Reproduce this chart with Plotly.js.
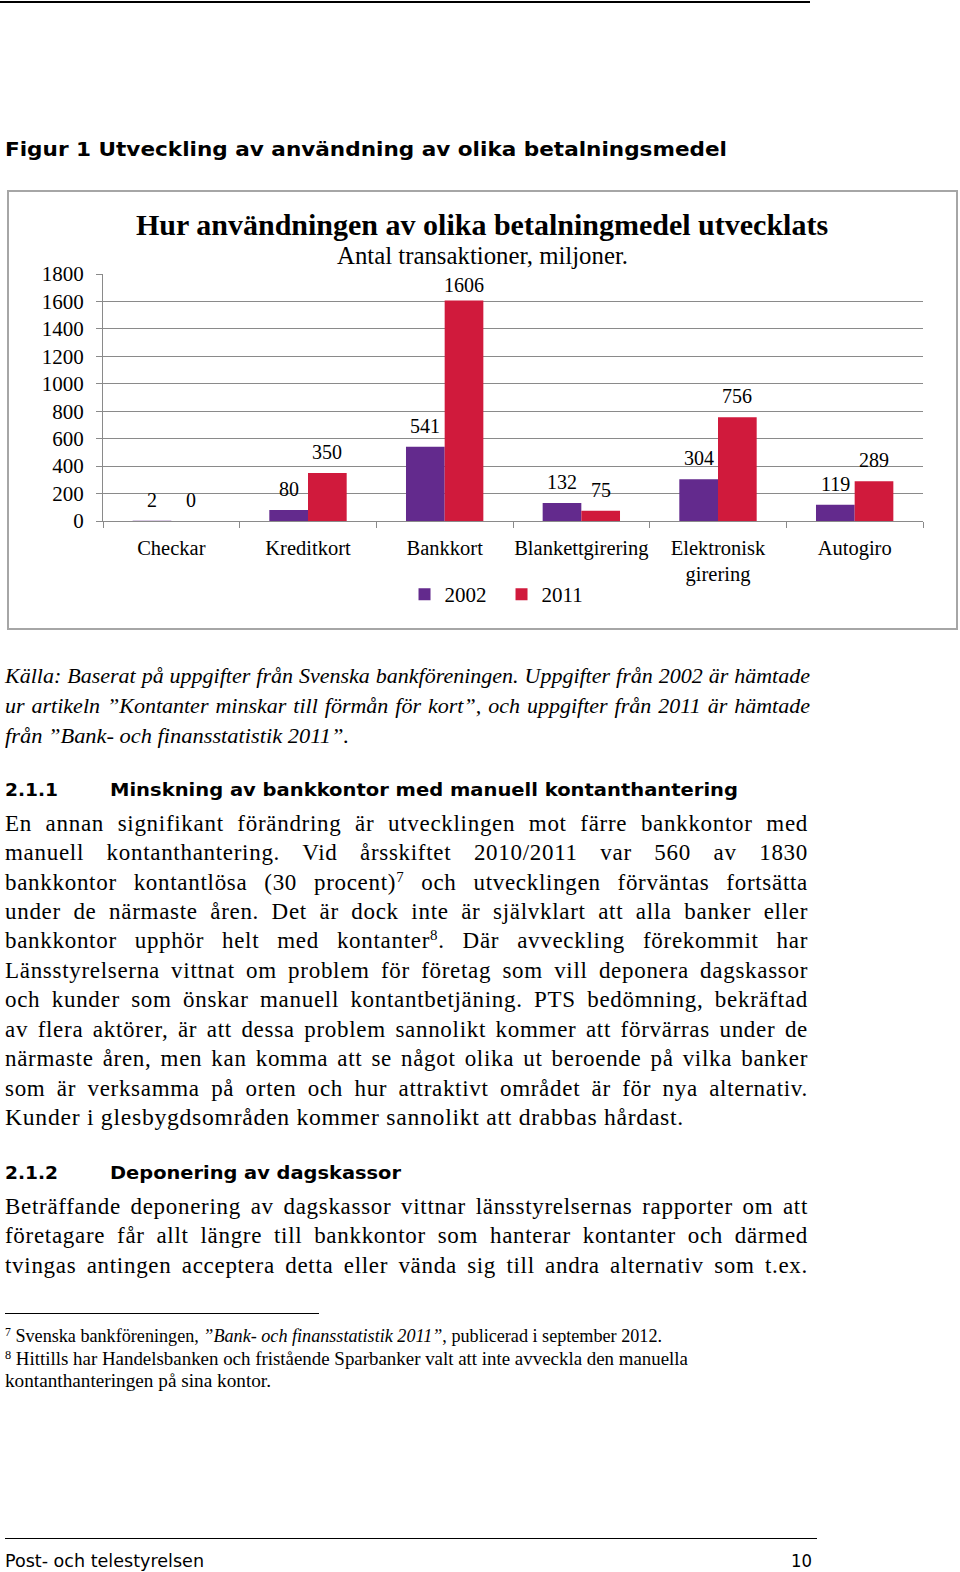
<!DOCTYPE html>
<html><head><meta charset="utf-8">
<script src="https://cdn.plot.ly/plotly-3.0.1.min.js"></script>
<style>
html,body{margin:0;padding:0;background:#fff;}
body{width:960px;height:1572px;position:relative;overflow:hidden;}
.ln{position:absolute;white-space:nowrap;transform-origin:0 50%;color:#000;}
.serif{font-family:"Liberation Serif","Times New Roman",serif;}
.sans{font-family:"DejaVu Sans",Verdana,sans-serif;}
.body{font-size:23px;line-height:30px;letter-spacing:0.7px;}
.src{font-size:22px;line-height:28px;font-style:italic;}
.hd{font-size:17px;line-height:22px;font-weight:bold;}
.cap{font-size:19px;line-height:24px;font-weight:bold;}
.fn{font-size:18px;line-height:22px;}
.ft{font-size:17px;line-height:22px;}
sup{font-size:0.65em;line-height:0;vertical-align:0.55em;}
.rule{position:absolute;background:#000;}
#box{position:absolute;left:7px;top:190px;width:951px;height:440px;box-sizing:border-box;border:2px solid #a6a6a6;}
#chart{position:absolute;left:9px;top:192px;width:947px;height:436px;}
</style></head>
<body>
<div class="rule" style="left:0;top:1px;width:810px;height:1.5px;"></div>
<div id="box"></div>
<div id="chart"></div>
<div class="rule" style="left:5px;top:1313px;width:314px;height:1px;"></div>
<div class="rule" style="left:5px;top:1538px;width:812px;height:1px;"></div>
<div id="text"></div>
<script>
// ---- chart data ----
const categories = ['Checkar', 'Kreditkort', 'Bankkort', 'Blankettgirering', 'Elektronisk<br>girering', 'Autogiro'];
const v2002 = [2, 80, 541, 132, 304, 119];
const v2011 = [0, 350, 1606, 75, 756, 289];
const seriesNames = ['2002', '2011'];
const yTickVals = [0, 200, 400, 600, 800, 1000, 1200, 1400, 1600, 1800];
const chartTitle = 'Hur användningen av olika betalningmedel utvecklats';
const chartSubtitle = 'Antal transaktioner, miljoner.';

const COL = ['#632A8D', '#D01A3C'];
const SERIF = 'Liberation Serif, Times New Roman, serif';
const GRID = '#8A8A8A';
const W = 947, H = 436, M = {l: 94, r: 33, t: 82, b: 107};
const BARGAP = 0.434;
const YMAX = yTickVals[yTickVals.length - 1];
const plotW = W - M.l - M.r, plotH = H - M.t - M.b;
const barW = plotW / categories.length * (1 - BARGAP) / 2;
const pxPerUnit = plotH / YMAX;

const traces = [v2002, v2011].map((vals, k) => ({
  type: 'bar', x: categories, y: vals, name: seriesNames[k],
  marker: {color: COL[k], line: {width: 0}}, hoverinfo: 'skip'
}));

// data labels above bars (kept inside the plot top, like the original)
const labelAnns = [];
[v2002, v2011].forEach((vals, k) => {
  vals.forEach((v, i) => {
    const shift = Math.min(21, (YMAX - v) * pxPerUnit - 11);
    labelAnns.push({x: categories[i], y: v, xref: 'x', yref: 'y', text: String(v),
      showarrow: false, xshift: (k === 0 ? -1 : 1) * barW / 2, yshift: shift,
      yanchor: 'middle', xanchor: 'center', font: {family: SERIF, size: 20, color: '#000'}});
  });
});

const layout = {
  width: W, height: H, margin: M,
  paper_bgcolor: 'rgba(0,0,0,0)', plot_bgcolor: 'rgba(0,0,0,0)',
  barmode: 'group', bargap: BARGAP, bargroupgap: 0,
  font: {family: SERIF, size: 20, color: '#000'},
  showlegend: true,
  legend: {orientation: 'h', x: 0.486, xanchor: 'center', y: -0.2976, yanchor: 'middle',
    font: {family: SERIF, size: 21, color: '#000'}, entrywidth: 52, itemclick: false, itemdoubleclick: false},
  xaxis: {type: 'category', showgrid: false, showline: true, linecolor: GRID, linewidth: 1,
    ticks: 'outside', tickson: 'boundaries', ticklen: 6, tickcolor: GRID, tickwidth: 1, tickangle: 0,
    tickfont: {family: SERIF, size: 20.5, color: '#000'}, ticklabelstandoff: 8, fixedrange: true},
  yaxis: {range: [0, YMAX], tickvals: yTickVals, showgrid: true, gridcolor: GRID, gridwidth: 1,
    showline: true, linecolor: GRID, linewidth: 1, ticks: 'outside', ticklen: 6, tickcolor: GRID,
    tickfont: {family: SERIF, size: 21, color: '#000'}, ticklabelstandoff: 8, zeroline: false, fixedrange: true},
  annotations: [
    {xref: 'paper', yref: 'paper', x: 0.4624, y: 1.2024, xanchor: 'center', yanchor: 'middle', showarrow: false,
      text: '<b>' + chartTitle + '</b>', font: {family: SERIF, size: 30, color: '#000'}},
    {xref: 'paper', yref: 'paper', x: 0.4624, y: 1.075, xanchor: 'center', yanchor: 'middle', showarrow: false,
      text: chartSubtitle, font: {family: SERIF, size: 24.8, color: '#000'}}
  ].concat(labelAnns)
};
Plotly.newPlot('chart', traces, layout, {staticPlot: true, displayModeBar: false});

// ---- page text ----
const lines = [
  ['sans cap', 'Figur 1 Utveckling av användning av olika betalningsmedel', 5, 149.4, 722, 'f'],
  ['serif src', 'Källa: Baserat på uppgifter från Svenska bankföreningen. Uppgifter från 2002 är hämtade', 5, 675.7, 805, 'j'],
  ['serif src', 'ur artikeln ”Kontanter minskar till förmån för kort”, och uppgifter från 2011 är hämtade', 5, 705.8, 805, 'j'],
  ['serif src', 'från ”Bank- och finansstatistik 2011”.', 5, 735.9, 344, 'f'],
  ['sans hd', '2.1.1', 5, 790, 53, 'f'],
  ['sans hd', 'Minskning av bankkontor med manuell kontanthantering', 110, 790, 628, 'f'],
  ['serif body', 'En annan signifikant förändring är utvecklingen mot färre bankkontor med', 5, 823.6, 803, 'j'],
  ['serif body', 'manuell kontanthantering. Vid årsskiftet 2010/2011 var 560 av 1830', 5, 852.7, 803, 'j'],
  ['serif body', 'bankkontor kontantlösa (30 procent)<sup>7</sup> och utvecklingen förväntas fortsätta', 5, 882.8, 803, 'j'],
  ['serif body', 'under de närmaste åren. Det är dock inte är självklart att alla banker eller', 5, 911.9, 803, 'j'],
  ['serif body', 'bankkontor upphör helt med kontanter<sup>8</sup>. Där avveckling förekommit har', 5, 940.9, 803, 'j'],
  ['serif body', 'Länsstyrelserna vittnat om problem för företag som vill deponera dagskassor', 5, 971, 803, 'j'],
  ['serif body', 'och kunder som önskar manuell kontantbetjäning. PTS bedömning, bekräftad', 5, 1000.1, 803, 'j'],
  ['serif body', 'av flera aktörer, är att dessa problem sannolikt kommer att förvärras under de', 5, 1030.2, 803, 'j'],
  ['serif body', 'närmaste åren, men kan komma att se något olika ut beroende på vilka banker', 5, 1059.2, 803, 'j'],
  ['serif body', 'som är verksamma på orten och hur attraktivt området är för nya alternativ.', 5, 1089.3, 803, 'j'],
  ['serif body', 'Kunder i glesbygdsområden kommer sannolikt att drabbas hårdast.', 5, 1118.4, 679, 'f'],
  ['sans hd', '2.1.2', 5, 1173, 53, 'f'],
  ['sans hd', 'Deponering av dagskassor', 110, 1173, 291, 'f'],
  ['serif body', 'Beträffande deponering av dagskassor vittnar länsstyrelsernas rapporter om att', 5, 1206.6, 803, 'j'],
  ['serif body', 'företagare får allt längre till bankkontor som hanterar kontanter och därmed', 5, 1235.7, 803, 'j'],
  ['serif body', 'tvingas antingen acceptera detta eller vända sig till andra alternativ som t.ex.', 5, 1265.8, 803, 'j'],
  ['serif fn', '<sup>7</sup> Svenska bankföreningen, <i>”Bank- och finansstatistik 2011”</i>, publicerad i september 2012.', 5, 1335.5, 657, 'f'],
  ['serif fn', '<sup>8</sup> Hittills har Handelsbanken och fristående Sparbanker valt att inte avveckla den manuella', 5, 1358.5, 683, 'f'],
  ['serif fn', 'kontanthanteringen på sina kontor.', 5, 1380.6, 266, 'f'],
  ['sans ft', 'Post- och telestyrelsen', 5, 1561, 199, 'f'],
  ['sans ft', '10', 791, 1561, 21, 'f']
];
const host = document.getElementById('text');
const els = lines.map(([cls, html, x, y, w, mode]) => {
  const d = document.createElement('div');
  d.className = 'ln ' + cls;
  d.innerHTML = html;
  d.style.left = x + 'px';
  host.appendChild(d);
  const lh = parseFloat(getComputedStyle(d).lineHeight);
  d.style.top = (y - lh / 2) + 'px';
  return [d, w, mode];
});
function fitAll() {
  els.forEach(([d, w, mode]) => {
    d.style.wordSpacing = '0px'; d.style.transform = 'none';
    const nat = d.getBoundingClientRect().width;
    if (mode === 'j') {
      const n = (d.textContent.match(/ /g) || []).length;
      if (nat < w && n > 0) { d.style.wordSpacing = ((w - nat) / n) + 'px'; return; }
    }
    d.style.transform = 'scaleX(' + (w / nat) + ')';
  });
}
fitAll();
if (document.fonts && document.fonts.ready) document.fonts.ready.then(fitAll);
</script>
</body></html>
